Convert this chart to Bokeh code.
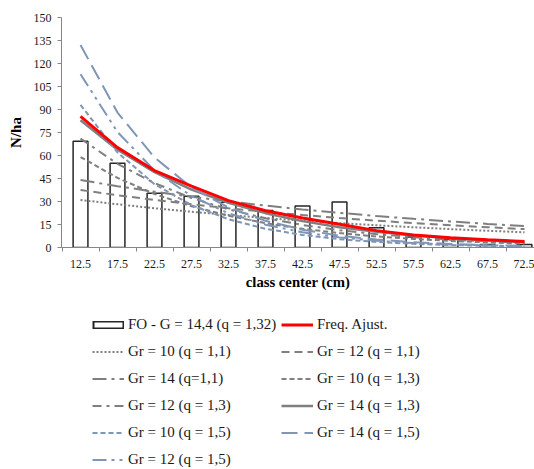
from bokeh.plotting import figure
from bokeh.layouts import column
from bokeh.models import Range1d, FixedTicker, Legend, LegendItem
from bokeh.embed import file_html
from bokeh.resources import INLINE

# ---- data ----
class_centers = [12.5, 17.5, 22.5, 27.5, 32.5, 37.5, 42.5, 47.5, 52.5, 57.5, 62.5, 67.5, 72.5]
class_labels = ["12.5", "17.5", "22.5", "27.5", "32.5", "37.5", "42.5", "47.5",
                "52.5", "57.5", "62.5", "67.5", "72.5"]
class_bounds = [10, 15, 20, 25, 30, 35, 40, 45, 50, 55, 60, 65, 70, 75]
y_ticks = [0, 15, 30, 45, 60, 75, 90, 105, 120, 135, 150]

fo_observed = [69.3, 55.0, 35.4, 33.5, 29.5, 24.2, 27.1, 29.6, 12.8, 6.9, 5.2, 2.0, 2.0]
freq_ajust = [85.5, 65.2, 50.2, 40.0, 30.6, 24.0, 19.2, 15.2, 11.0, 8.2, 6.3, 5.0, 3.9]

gr10_q11 = [31.0, 28.2, 25.6, 23.3, 21.2, 19.2, 17.5, 15.9, 14.5, 13.2, 12.0, 10.9, 9.9]
gr12_q11 = [37.5, 34.1, 31.0, 28.2, 25.6, 23.3, 21.2, 19.2, 17.5, 15.9, 14.5, 13.2, 12.0]
gr14_q11 = [44.0, 40.0, 36.4, 33.1, 30.1, 27.3, 24.8, 22.6, 20.5, 18.7, 17.0, 15.4, 14.0]
gr10_q13 = [59.0, 45.4, 34.9, 26.9, 20.7, 15.9, 12.2, 9.4, 7.2, 5.6, 4.3, 3.3, 2.5]
gr12_q13 = [71.0, 54.6, 42.0, 32.3, 24.9, 19.1, 14.7, 11.3, 8.7, 6.7, 5.1, 4.0, 3.0]
gr14_q13 = [83.0, 63.8, 49.1, 37.8, 29.1, 22.4, 17.2, 13.2, 10.2, 7.8, 6.0, 4.6, 3.6]
gr10_q15 = [93.0, 62.0, 41.3, 27.6, 18.4, 12.2, 8.2, 5.4, 3.6, 2.4, 1.6, 1.1, 0.7]
gr12_q15 = [113.0, 75.3, 50.2, 33.5, 22.3, 14.9, 9.9, 6.6, 4.4, 2.9, 2.0, 1.3, 0.9]
gr14_q15 = [132.0, 88.0, 58.7, 39.1, 26.1, 17.4, 11.6, 7.7, 5.2, 3.4, 2.3, 1.5, 1.0]

series_labels = {
    "fo": "FO - G = 14,4 (q = 1,32)",
    "freq": "Freq. Ajust.",
    "gr10_q11": "Gr = 10 (q = 1,1)",
    "gr12_q11": "Gr = 12 (q = 1,1)",
    "gr14_q11": "Gr = 14 (q=1,1)",
    "gr10_q13": "Gr = 10 (q = 1,3)",
    "gr12_q13": "Gr = 12 (q = 1,3)",
    "gr14_q13": "Gr = 14 (q = 1,3)",
    "gr10_q15": "Gr = 10 (q = 1,5)",
    "gr14_q15": "Gr = 14 (q = 1,5)",
    "gr12_q15": "Gr = 12 (q = 1,5)",
}

# ---- styles ----
GRAY = "#7f7f7f"
BLUE = "#7f96b7"
RED = "#ff0000"
SERIF = "Liberation Serif"
TXT = "#1a1a1a"
BAR_LINE = "#262626"

styles = {
    "gr10_q11": (GRAY, "2 2", 2.0),
    "gr12_q11": (GRAY, "8 5", 2.0),
    "gr14_q11": (GRAY, "14 5 3 5", 2.0),
    "gr10_q13": (GRAY, "5 3", 2.0),
    "gr12_q13": (GRAY, "9 5 3 5", 2.0),
    "gr14_q13": (GRAY, "solid", 2.5),
    "gr10_q15": (BLUE, "5 3", 2.0),
    "gr12_q15": (BLUE, "14 5 3 5 3 5", 2.0),
    "gr14_q15": (BLUE, "16 7", 2.0),
    "freq": (RED, "solid", 3.0),
}
series_values = {
    "gr10_q11": gr10_q11, "gr12_q11": gr12_q11, "gr14_q11": gr14_q11,
    "gr10_q13": gr10_q13, "gr12_q13": gr12_q13, "gr14_q13": gr14_q13,
    "gr10_q15": gr10_q15, "gr12_q15": gr12_q15, "gr14_q15": gr14_q15,
    "freq": freq_ajust,
}
draw_order = ["gr10_q11", "gr12_q11", "gr14_q11", "gr10_q13", "gr12_q13", "gr14_q13",
              "gr10_q15", "gr12_q15", "gr14_q15", "freq"]

# ---- main chart ----
p = figure(width=534, height=300, output_backend="svg", toolbar_location=None,
           x_range=Range1d(9.93, 73.85), y_range=Range1d(0, 150),
           min_border_left=61, min_border_right=0, min_border_top=17, min_border_bottom=53)
p.outline_line_color = None
p.xgrid.visible = False
p.ygrid.visible = False

xa = p.xaxis[0]
xa.ticker = FixedTicker(ticks=class_centers, minor_ticks=class_bounds)
xa.major_label_overrides = {c: l for c, l in zip(class_centers, class_labels)}
xa.major_tick_out = 0
xa.major_tick_in = 0
xa.minor_tick_out = 4
xa.minor_tick_in = 0
xa.minor_tick_line_color = "#868686"
xa.axis_line_color = "#868686"
xa.major_label_standoff = 8
xa.major_label_text_font = SERIF
xa.major_label_text_font_size = "12px"
xa.major_label_text_color = TXT
xa.axis_label = "class center (cm)"
xa.axis_label_text_font = SERIF
xa.axis_label_text_font_size = "14.7px"
xa.axis_label_text_font_style = "bold"
xa.axis_label_text_color = "black"
xa.axis_label_standoff = 3

ya = p.yaxis[0]
ya.ticker = FixedTicker(ticks=y_ticks)
ya.major_tick_out = 4
ya.major_tick_in = 0
ya.minor_tick_out = 0
ya.minor_tick_in = 0
ya.major_tick_line_color = "#868686"
ya.axis_line_color = "#868686"
ya.major_label_standoff = 6
ya.major_label_text_font = SERIF
ya.major_label_text_font_size = "12px"
ya.major_label_text_color = TXT
ya.axis_label = "N/ha"
ya.axis_label_text_font = SERIF
ya.axis_label_text_font_size = "15px"
ya.axis_label_text_font_style = "bold"
ya.axis_label_text_color = "black"
ya.axis_label_standoff = 7

p.vbar(x=class_centers, top=fo_observed, width=2.0, fill_color="white",
       line_color=BAR_LINE, line_width=1.5)

for key in draw_order:
    color, dash, width = styles[key]
    p.line(class_centers, series_values[key], line_color=color, line_dash=dash,
           line_width=width, line_cap="butt")

# ---- legend panel (second figure; legend glyphs come from NaN placeholder renderers) ----
lf = figure(width=534, height=169, output_backend="svg", toolbar_location=None,
            x_axis_type=None, y_axis_type=None,
            x_range=Range1d(0, 1), y_range=Range1d(0, 1),
            min_border_left=0, min_border_right=0, min_border_top=0, min_border_bottom=0)
lf.outline_line_color = None
lf.xgrid.visible = False
lf.ygrid.visible = False

NAN = [float("nan")]

def dummy(key):
    color, dash, width = styles[key]
    return lf.line(x=NAN, y=NAN, line_color=color, line_dash=dash, line_width=width,
                   line_cap="butt")

fo_outer = lf.line(x=NAN, y=NAN, line_color=BAR_LINE, line_width=8, line_cap="butt")
fo_inner = lf.line(x=NAN, y=NAN, line_color="white", line_width=5, line_cap="butt",
                   line_dash="28 4", line_dash_offset=30)

def item(key, renderers):
    return LegendItem(label=series_labels[key], renderers=renderers)

left_items = [
    item("fo", [fo_outer, fo_inner]),
    item("gr10_q11", [dummy("gr10_q11")]),
    item("gr14_q11", [dummy("gr14_q11")]),
    item("gr12_q13", [dummy("gr12_q13")]),
    item("gr10_q15", [dummy("gr10_q15")]),
    item("gr12_q15", [dummy("gr12_q15")]),
]
right_items = [
    item("freq", [dummy("freq")]),
    item("gr12_q11", [dummy("gr12_q11")]),
    item("gr10_q13", [dummy("gr10_q13")]),
    item("gr14_q13", [dummy("gr14_q13")]),
    item("gr14_q15", [dummy("gr14_q15")]),
]

def style_legend(leg):
    leg.border_line_color = None
    leg.background_fill_alpha = 0
    leg.padding = 0
    leg.margin = 0
    leg.spacing = 10
    leg.glyph_width = 32
    leg.glyph_height = 17
    leg.label_height = 17
    leg.label_standoff = 4
    leg.label_text_font = SERIF
    leg.label_text_font_size = "15px"
    leg.label_text_color = TXT

# frames of the two stacked figures are aligned, so x is measured from the plot's left edge (61px)
leg_left = Legend(items=left_items, location=(31, 1))
leg_right = Legend(items=right_items, location=(220, 28))
style_legend(leg_left)
style_legend(leg_right)
lf.add_layout(leg_left, "center")
lf.add_layout(leg_right, "center")

layout = column(p, lf, spacing=0)
open("out.html", "w").write(file_html(layout, INLINE))
